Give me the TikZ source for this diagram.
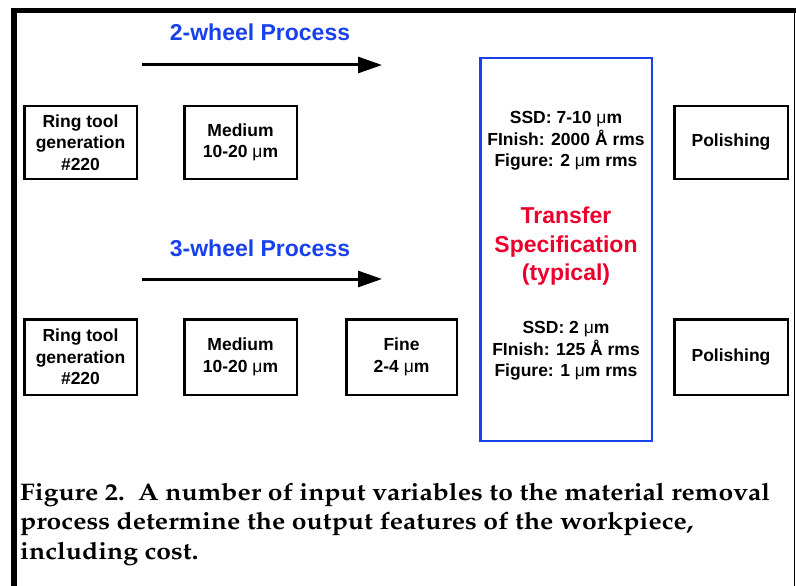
\documentclass[tikz,border=0pt]{standalone}
\usepackage[T1]{fontenc}
\usepackage{fontspec}
\setmainfont{Liberation Sans}
\usetikzlibrary{arrows.meta}
\definecolor{pblue}{RGB}{25,65,235}
\definecolor{pred}{RGB}{235,0,45}
\newcommand\myum{{\mdseries μ}m}
\newcommand\capfont{\fontencoding{T1}\fontfamily{ppl}\fontseries{b}\selectfont}
\tikzset{
  procbox/.style={draw, line width=2.5pt, inner sep=0pt, align=center,
    font=\bfseries\fontsize{17.5}{21.5}\selectfont},
  spectext/.style={align=center, inner sep=0pt, font=\bfseries\fontsize{17.5}{21.5}\selectfont},
  proclabel/.style={text=pblue, inner sep=0pt, font=\bfseries\fontsize{23}{28}\selectfont},
  flow/.style={line width=3pt, -{Triangle[length=24pt,width=16pt]}},
}
\begin{document}
\begin{tikzpicture}[x=1pt,y=-1pt]
\useasboundingbox (0,0) rectangle (796,586);
% frame
\draw[line width=5.5pt, line join=miter] (13.75,586) -- (13.75,10.75) -- (796,10.75);
\draw[line width=1.5pt] (794.5,13) -- (794.5,586);
% process labels and arrows
\node[proclabel] (lab2) at (260,32) {2-wheel Process};
\node[proclabel] (lab3) at (260,248) {3-wheel Process};
\coordinate (a2s) at (142,65);
\coordinate (a2e) at (382,65);
\coordinate (a3s) at (142,279);
\coordinate (a3e) at (382,279);
\draw[flow] (a2s) -- (a2e);
\draw[flow] (a3s) -- (a3e);
% row 1
\node[procbox, minimum width=112.5pt, minimum height=72.5pt] (ring1) at (80.5,142.5) {Ring tool\\generation\\\#220};
\node[procbox, minimum width=112.5pt, minimum height=72.5pt] (med1) at (240.5,142.5) {Medium\\10-20 \myum};
\node[procbox, minimum width=113.5pt, minimum height=72.5pt] (pol1) at (731,142.5) {Polishing};
% row 2
\node[procbox, minimum width=112.5pt, minimum height=75.5pt] (ring2) at (80.5,357) {Ring tool\\generation\\\#220};
\node[procbox, minimum width=112.5pt, minimum height=75.5pt] (med2) at (240.5,357) {Medium\\10-20 \myum};
\node[procbox, minimum width=110.5pt, minimum height=75.5pt] (fine2) at (401.5,357) {Fine\\2-4 \myum};
\node[procbox, minimum width=113.5pt, minimum height=75.5pt] (pol2) at (731,357) {Polishing};
% transfer specification
\node[draw=pblue, line width=2.5pt, minimum width=171.5pt, minimum height=382.5pt, inner sep=0pt] (spec) at (566,249.5) {};
\node[spectext] (ssd1) at (566,141) {SSD: 7-10 \myum\\FInish: 2000 Å rms\\Figure: 2 \myum{} rms};
\node[align=center, inner sep=0pt, text=pred, font=\bfseries\fontsize{23}{28.5}\selectfont] (tsp) at (566,246.5) {Transfer\\Specification\\(typical)};
\node[spectext] (ssd2) at (566,351) {SSD: 2 \myum\\FInish: 125 Å rms\\Figure: 1 \myum{} rms};
% caption
\node[anchor=base west, align=left, inner sep=0pt, xscale=1.105, transform shape, font=\capfont\fontsize{24}{29.5}\selectfont] (cap) at (20,559) {Figure 2.\ \ A number of input variables to the material removal\\process determine the output features of the workpiece,\\including cost.};
\end{tikzpicture}
\end{document}
